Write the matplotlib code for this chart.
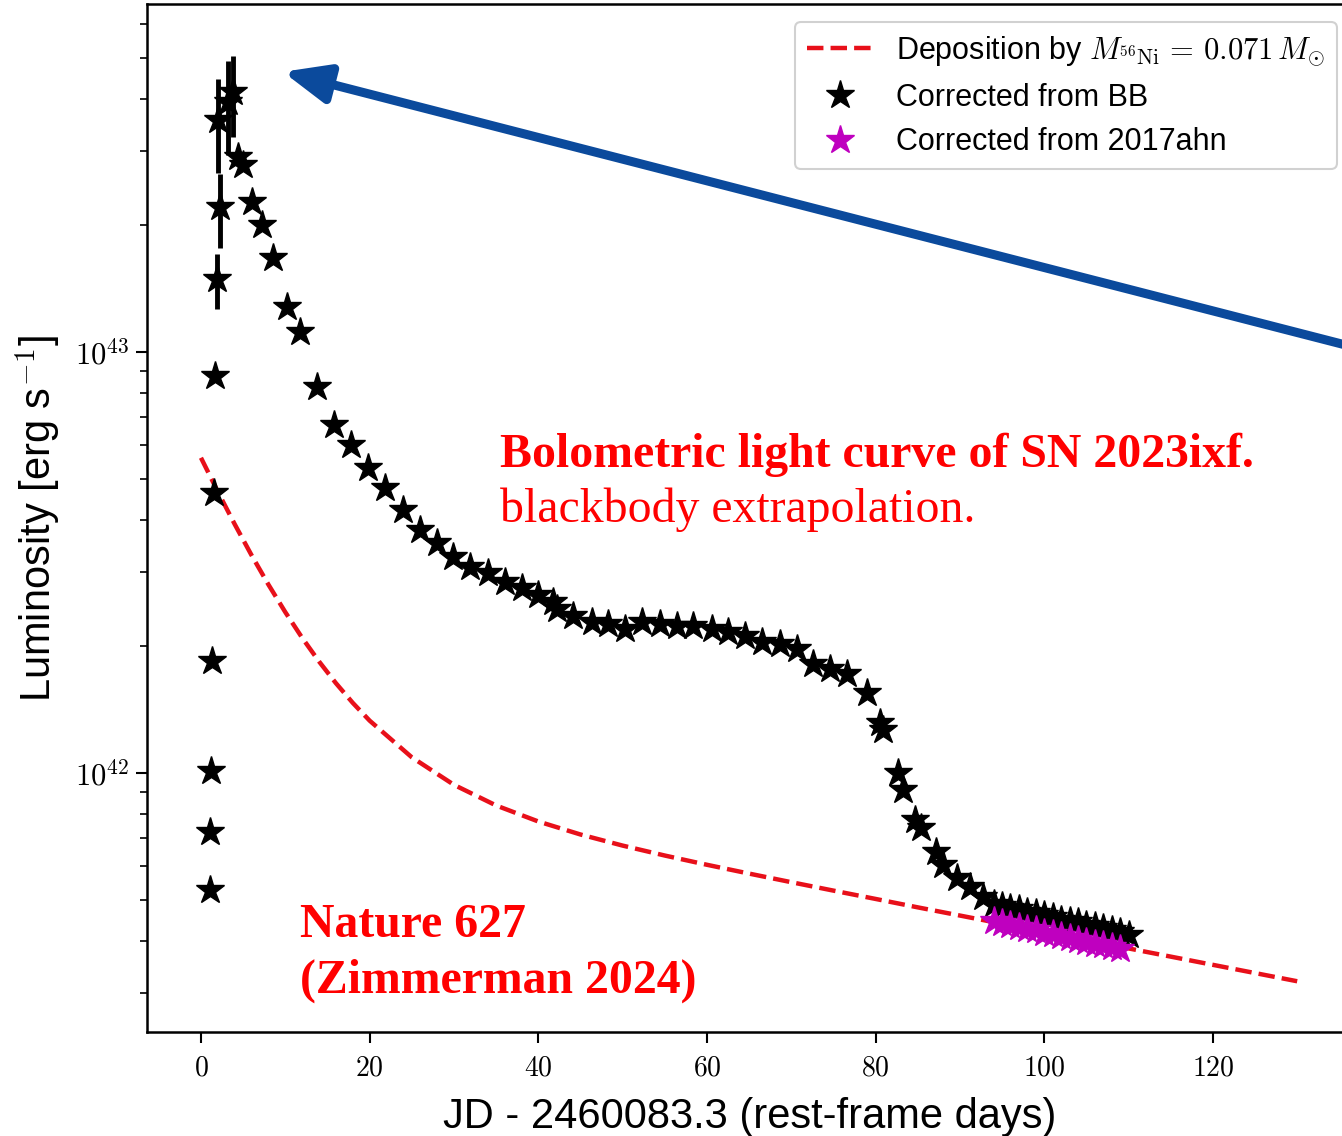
import numpy as np
import matplotlib
matplotlib.use("Agg")
import matplotlib.pyplot as plt
from matplotlib.ticker import FuncFormatter, NullFormatter, LogLocator

plt.rcParams['mathtext.fontset'] = 'cm'
plt.rcParams['font.family'] = ['Liberation Sans', 'DejaVu Sans']

# rest-frame days and log10 luminosity of the blackbody-corrected light curve
bb_days = [1.07, 1.07, 1.19, 1.30, 1.54, 1.66, 1.90, 2.25, 2.02, 3.20, 3.79,
           4.39, 4.98, 6.05, 7.23, 8.54, 10.20, 11.74, 13.76, 15.77, 17.79,
           19.80, 21.82, 23.95, 25.97, 27.98, 29.88, 31.90, 34.03, 36.05,
           38.06, 39.96, 41.74, 42.22, 44.11, 46.37, 48.26, 50.28, 52.30,
           54.43, 56.45, 58.34, 60.60, 62.49, 64.51, 66.52, 68.66, 70.68,
           72.57, 74.59, 76.60, 78.98, 80.52, 80.87, 82.65, 83.24, 84.67,
           85.38, 87.16, 87.99, 89.65, 91.19, 92.73,
           94, 95, 96, 97, 98, 99, 100, 101, 102, 103, 104, 105, 106, 107,
           108, 109, 110]
bb_logL = [41.722, 41.860, 42.005, 42.266, 42.665, 42.943, 43.173, 43.344,
           43.551, 43.594, 43.618, 43.463, 43.444, 43.356, 43.302, 43.223,
           43.107, 43.048, 42.917, 42.827, 42.779, 42.724, 42.677, 42.625,
           42.577, 42.546, 42.513, 42.489, 42.475, 42.454, 42.439, 42.423,
           42.406, 42.390, 42.373, 42.359, 42.354, 42.342, 42.359, 42.354,
           42.349, 42.349, 42.342, 42.335, 42.325, 42.311, 42.306, 42.295,
           42.259, 42.247, 42.235, 42.190, 42.119, 42.102, 42.000, 41.960,
           41.888, 41.869, 41.812, 41.781, 41.751, 41.729, 41.705,
           41.690, 41.684, 41.680, 41.676, 41.670, 41.667, 41.662, 41.657,
           41.652, 41.648, 41.645, 41.640, 41.636, 41.632, 41.628, 41.622,
           41.615]
# fractional luminosity errors (only the earliest epochs have visible bars)
bb_frac_err = [0, 0, 0, 0, 0, 0, 0.15, 0.20, 0.25, 0.25, 0.22] + [0] * 69

# late-time points corrected with the SN 2017ahn template
ahn_days = [94, 95, 96, 97, 98, 99, 100, 101, 102, 103, 104, 105, 106, 107,
            108, 109]
ahn_logL = [41.648, 41.643, 41.639, 41.634, 41.630, 41.626, 41.621, 41.617,
            41.612, 41.608, 41.604, 41.599, 41.595, 41.591, 41.587, 41.583]

# radioactive deposition curve for 0.071 Msun of 56Ni
dep_days = [0, 2, 4, 6, 8, 10, 12, 14, 16, 18, 20, 25, 30, 35, 40, 45, 50,
            55, 60, 65, 70, 75, 80, 85, 90, 95, 100, 105, 110, 115, 120, 125,
            130]
dep_L = [5.609e42, 4.659e42, 3.900e42, 3.291e42, 2.803e42, 2.411e42,
         2.095e42, 1.841e42, 1.635e42, 1.468e42, 1.332e42, 1.090e42,
         9.376e41, 8.375e41, 7.673e41, 7.146e41, 6.725e41, 6.369e41,
         6.055e41, 5.770e41, 5.505e41, 5.257e41, 5.023e41, 4.797e41,
         4.587e41, 4.385e41, 4.192e41, 4.008e41, 3.832e41, 3.664e41,
         3.503e41, 3.349e41, 3.202e41]

W, H = 1342, 1136
fig = plt.figure(figsize=(W / 100, H / 100), dpi=100)
ax = fig.add_axes([147 / W, 1 - 1032 / H, (1352 - 147) / W, (1032 - 4) / H])

bb_L = 10 ** np.array(bb_logL)
frac = np.array(bb_frac_err)
yerr = np.vstack([bb_L * frac, bb_L * frac])

ax.plot(dep_days, dep_L, '--', color='#e8101a', lw=3.2, zorder=1,
        label=r'Deposition by $M_{^{56}\mathrm{Ni}}\,=\,0.071\,M_{\odot}$')
ax.errorbar(bb_days, bb_L, yerr=yerr, fmt='none', ecolor='k',
            elinewidth=3.5, capsize=0, zorder=2)
ax.plot(bb_days, bb_L, '*', color='k', ms=21, ls='none', zorder=3,
        label='Corrected from BB')
ax.plot(ahn_days, 10 ** np.array(ahn_logL), '*', color='m', ms=21,
        ls='none', zorder=4, label='Corrected from 2017ahn')

ax.set_yscale('log')
ax.set_xlim(-6.4, 136.5)
ax.set_ylim(2.426e41, 6.71e43)
ax.set_xticks([0, 20, 40, 60, 80, 100, 120])
ax.xaxis.set_major_formatter(FuncFormatter(lambda v, p: r'$%d$' % v))
ax.yaxis.set_major_locator(LogLocator(base=10))
ax.yaxis.set_major_formatter(
    FuncFormatter(lambda v, p: r'$10^{%d}$' % round(np.log10(v))))
ax.yaxis.set_minor_locator(LogLocator(base=10, subs=np.arange(2, 10)))
ax.yaxis.set_minor_formatter(NullFormatter())
ax.tick_params(axis='both', which='major', labelsize=20, length=8,
               width=1.5, direction='out', top=False, right=False)
ax.tick_params(axis='y', which='major', labelsize=22, pad=5)
ax.tick_params(axis='both', which='minor', length=5, width=1.2,
               top=False, right=False)
ax.tick_params(axis='x', pad=9)
for s in ax.spines.values():
    s.set_linewidth(1.8)

ax.set_xlabel('JD - 2460083.3 (rest-frame days)', fontsize=30, labelpad=11)
ax.set_ylabel(r'Luminosity [erg s$^{-1}$]', fontsize=30, labelpad=8)

leg = ax.legend(loc='upper right', bbox_to_anchor=(1337 / W, 1 - 22 / H),
                bbox_transform=fig.transFigure, borderaxespad=0,
                fontsize=22, handlelength=2.1, labelspacing=0.48,
                handletextpad=0.8, borderpad=0.4, framealpha=0.9)
leg.get_frame().set_linewidth(1.5)

# blue pointer towards the peak
ax.annotate('', xy=(9.72, 4.63e43), xytext=(136.5, 1.03e43),
            arrowprops=dict(arrowstyle='-|>,head_length=0.85,head_width=0.36',
                            mutation_scale=32, color='#0b4a9c', lw=6.5,
                            shrinkA=0, shrinkB=0),
            annotation_clip=False, zorder=5)

red = '#ff0000'
serif = ['Liberation Serif', 'DejaVu Serif']
fig.text(500 / W, 1 - 467 / H, 'Bolometric light curve of SN 2023ixf.',
         color=red, fontsize=34.4, fontweight='bold', family=serif,
         va='baseline')
fig.text(500 / W, 1 - 522 / H, 'blackbody extrapolation.',
         color=red, fontsize=34.4, family=serif, va='baseline')
fig.text(300 / W, 1 - 937 / H, 'Nature 627', color=red, fontsize=34.4,
         fontweight='bold', family=serif, va='baseline')
fig.text(300 / W, 1 - 993 / H, '(Zimmerman 2024)', color=red, fontsize=34.4,
         fontweight='bold', family=serif, va='baseline')

fig.savefig('out.png', dpi=100)
